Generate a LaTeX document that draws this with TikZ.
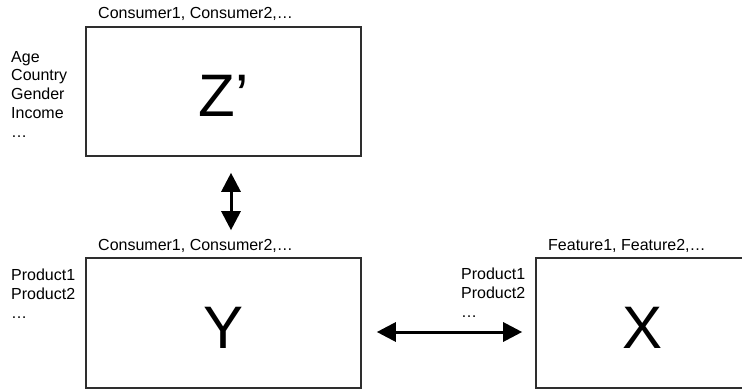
\documentclass[tikz,border=0pt]{standalone}
\usepackage{fontspec}
\setmainfont{Liberation Sans}
\usetikzlibrary{arrows.meta}
\begin{document}
\begin{tikzpicture}[x=1pt,y=-1pt,
  panel/.style={draw=black!82, line width=1.6pt, rectangle, inner sep=0pt,
    text height=50pt, text depth=0pt, font=\fontsize{60}{60}\selectfont},
  caption/.style={inner sep=0pt, font=\fontsize{16}{18.7}\selectfont},
  biarrow/.style={{Triangle[length=19pt,width=19pt]}-{Triangle[length=19pt,width=19pt]},
    line width=3pt}]
\clip (0,0) rectangle (742,390);

% matrices
\node[panel, minimum width=275pt, minimum height=129pt] (zbox) at (223.5,91.5) {Z’};
\node[panel, minimum width=275pt, minimum height=130pt] (ybox) at (223.5,323) {Y};
\node[panel, minimum width=214pt, minimum height=130pt] (xbox) at (643,323) {X};

% column labels
\node[caption, anchor=base west] (zcols) at (98,19) {Consumer1, Consumer2,…};
\node[caption, anchor=base west] (ycols) at (98,251) {Consumer1, Consumer2,…};
\node[caption, anchor=base west] (xcols) at (548,251) {Feature1, Feature2,…};

% row labels
\node[caption, anchor=north west, align=left] (zrows) at (11,51) {Age\\Country\\Gender\\Income\\…};
\node[caption, anchor=north west, align=left] (yrows) at (11,269) {Product1\\Product2\\…};
\node[caption, anchor=north west, align=left] (xrows) at (461,268) {Product1\\Product2\\…};

% shared dimensions
\draw[biarrow, shorten <=16pt, shorten >=27pt] ([xshift=7.5pt]zbox.south) -- ([xshift=7.5pt]ybox.north);
\draw[biarrow, shorten <=15pt, shorten >=13pt] ([yshift=-9pt]ybox.east) -- ([yshift=-9pt]xbox.west);
\end{tikzpicture}
\end{document}
